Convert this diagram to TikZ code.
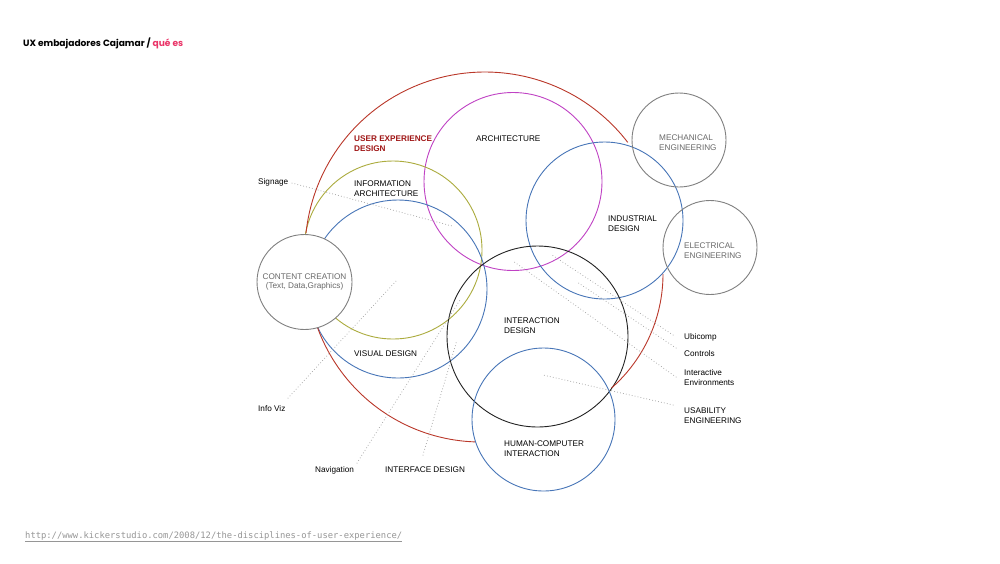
\documentclass[tikz,border=0pt]{standalone}
\usepackage{fontspec}
\usepackage{graphicx}
\setmainfont{Liberation Sans}
\newfontfamily\titlefont{Poppins}
\newfontfamily\urlfont{DejaVu Sans Mono}
\definecolor{uxred}{RGB}{186,56,42}
\definecolor{uxtext}{RGB}{160,22,22}
\definecolor{archmag}{RGB}{192,66,196}
\definecolor{discblue}{RGB}{72,118,184}
\definecolor{iaolive}{RGB}{172,172,62}
\definecolor{ixblack}{RGB}{35,35,35}
\definecolor{ringgray}{RGB}{128,128,128}
\definecolor{txtgray}{RGB}{105,105,105}
\definecolor{dotgray}{RGB}{160,160,160}
\definecolor{titlepink}{RGB}{234,52,104}
\definecolor{urlgray}{RGB}{150,150,150}
\begin{document}
\begin{tikzpicture}[x=1pt,y=-1pt,
  ring/.style={circle, draw, line width=0.9pt, minimum size=#1, inner sep=0pt, outer sep=0pt},
  lbl/.style={anchor=north west, inner sep=0pt, align=left, text=black,
    font=\fontsize{8.2pt}{9.5pt}\selectfont},
  glbl/.style={lbl, text=txtgray},
  leader/.style={draw=dotgray, line width=1pt, line cap=round, dash pattern=on 0pt off 3pt},
  uxline/.style={draw=uxred, line width=0.9pt}]
\useasboundingbox[fill=white] (0,0) rectangle (1000,563);

% title
\node[anchor=west, inner sep=0pt] (title) at (23,43)
  {\resizebox{160pt}{!}{\titlefont\bfseries UX embajadores Cajamar / \textcolor{titlepink}{qué es}}};

% discipline circles
\node[ring=178pt, draw=archmag] (arch) at (513,181.5) {};
\node[ring=157pt, draw=discblue] (ind) at (604.5,220.5) {};
\node[ring=178pt, draw=iaolive] (ia) at (393,250) {};
\node[ring=178pt, draw=discblue] (vd) at (398,289) {};
\node[ring=181pt, draw=ixblack] (ixd) at (537.5,336.5) {};
\node[ring=143pt, draw=discblue] (hci) at (543.5,419.5) {};
\node[ring=94pt, draw=ringgray] (me) at (679,140) {};
\node[ring=94pt, draw=ringgray] (ee) at (710,247.5) {};

% user experience design outline
\draw[uxline] plot[domain=186:322.5, samples=80] ({485+180*cos(\x)},{252+180*sin(\x)});
\draw[uxline] plot[domain=0:48.6, samples=40] ({511+152*cos(\x)},{274+152*sin(\x)});
\draw[uxline] plot[domain=92:160.2, samples=50] ({481+174*cos(\x)},{268+174*sin(\x)});

% content creation
\node[ring=95pt, draw=ringgray, fill=white, text=txtgray, align=center,
  font=\fontsize{8.2pt}{9.5pt}\selectfont] (cc) at (304.5,282)
  {CONTENT CREATION\\(Text, Data,Graphics)};

% labels
\node[lbl, text=uxtext, font=\fontsize{8.2pt}{9.5pt}\selectfont\bfseries] (uxl) at (354,136) {USER EXPERIENCE\\DESIGN};
\node[lbl] (archl) at (476,136) {ARCHITECTURE};
\node[glbl] (mel) at (659,135) {MECHANICAL\\ENGINEERING};
\node[lbl] (sign) at (258,178.5) {Signage};
\node[lbl] (ial) at (354,181) {INFORMATION\\ARCHITECTURE};
\node[lbl] (indl) at (608,216) {INDUSTRIAL\\DESIGN};
\node[glbl] (eel) at (684,243) {ELECTRICAL\\ENGINEERING};
\node[lbl] (ixdl) at (504,318) {INTERACTION\\DESIGN};
\node[lbl] (ubi) at (684,333.5) {Ubicomp};
\node[lbl] (vdl) at (354,351) {VISUAL DESIGN};
\node[lbl] (ctrl) at (684,350.5) {Controls};
\node[lbl] (ienv) at (684,369.5) {Interactive\\Environments};
\node[lbl] (iviz) at (258,405.5) {Info Viz};
\node[lbl] (usab) at (684,408) {USABILITY\\ENGINEERING};
\node[lbl] (hcil) at (504,441) {HUMAN-COMPUTER\\INTERACTION};
\node[lbl] (nav) at (315,466.5) {Navigation};
\node[lbl] (ifd) at (385,467) {INTERFACE DESIGN};

% leader line ends
\coordinate (signA) at (292,183);   \coordinate (signB) at (452,226);
\coordinate (ivizA) at (288,398);   \coordinate (ivizB) at (397,280);
\coordinate (navA) at (357,463);    \coordinate (navB) at (460,300);
\coordinate (ifdA) at (423,455);    \coordinate (ifdB) at (457,340);
\coordinate (ubiA) at (673,335);    \coordinate (ubiB) at (552,255);
\coordinate (ctrlA) at (676,348);   \coordinate (ctrlB) at (577,282);
\coordinate (ienvA) at (676,377);   \coordinate (ienvB) at (513,261);
\coordinate (usabA) at (673,405);   \coordinate (usabB) at (543,375);
\draw[leader] (signA) -- (signB);
\draw[leader] (ivizA) -- (ivizB);
\draw[leader] (navA) -- (navB);
\draw[leader] (ifdA) -- (ifdB);
\draw[leader] (ubiA) -- (ubiB);
\draw[leader] (ctrlA) -- (ctrlB);
\draw[leader] (ienvA) -- (ienvB);
\draw[leader] (usabA) -- (usabB);

% source url
\node[anchor=west, inner sep=0pt, text=urlgray] (url) at (25,537)
  {\resizebox{377pt}{!}{\urlfont\underline{http://www.kickerstudio.com/2008/12/the-disciplines-of-user-experience/}}};
\end{tikzpicture}
\end{document}
